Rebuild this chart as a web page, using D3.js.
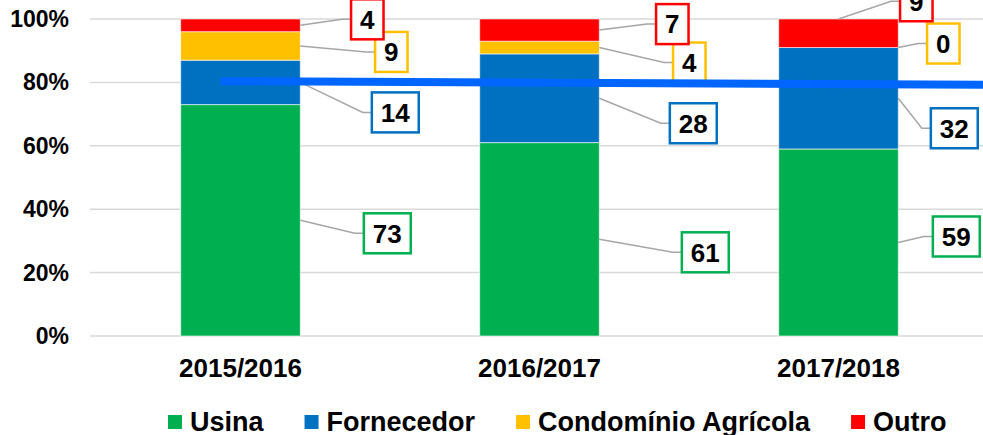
<!DOCTYPE html>
<html>
<head>
<meta charset="utf-8">
<script src="https://cdn.jsdelivr.net/npm/d3@7"></script>
<style>
  body { margin: 0; background: #fff; }
  svg { display: block; font-family: "Liberation Sans", Arial, sans-serif; font-weight: bold; }
</style>
</head>
<body>
<svg id="chart" width="983" height="435"></svg>
<script>
/* chart data */
var categories = ["2015/2016", "2016/2017", "2017/2018"];
var seriesNames = ["Usina", "Fornecedor", "Condomínio Agrícola", "Outro"];
var usina = [73, 61, 59];
var fornecedor = [14, 28, 32];
var condominio = [9, 4, 0];
var outro = [4, 7, 9];
var yTicks = [0, 20, 40, 60, 80, 100];
// blue marker line drawn over the chart (category position, percent)
var markerLine = [{ pos: -0.067, value: 80.4 }, { pos: 2.6, value: 79.2 }];

var colors = ["#00B050", "#0070C0", "#FFC000", "#FF0000"];

/* where each data label box sits, relative to bar edge and segment middle */
var labelOffsets = [
  [[87, 13], [95, 30], [91, 6], [67, -6]],
  [[106, 13], [94, 25], [90, 15], [73, -6]],
  [[58, -6], [56, 30], [45, -4], [18, -32]]
];

var svg = d3.select("#chart");

var x = d3.scaleBand().domain(categories).range([91, 988]).paddingInner(0.6).paddingOuter(0.3);
var y = d3.scaleLinear().domain([0, 100]).range([336, 19]);

/* gridlines */
svg.append("g").selectAll("line").data(yTicks).enter().append("line")
  .attr("x1", 90).attr("x2", 983)
  .attr("y1", function(d) { return y(d); })
  .attr("y2", function(d) { return y(d); })
  .attr("stroke", "#D9D9D9").attr("stroke-width", 1.5);

/* y axis labels */
svg.append("g").selectAll("text").data(yTicks).enter().append("text")
  .attr("x", 69).attr("y", function(d) { return y(d); })
  .attr("dy", "0.35em").attr("text-anchor", "end")
  .attr("font-size", 23).attr("fill", "#000")
  .text(function(d) { return d + "%"; });

/* stacked data */
var table = categories.map(function(c, i) {
  return { cat: c, Usina: usina[i], Fornecedor: fornecedor[i], "Condomínio Agrícola": condominio[i], Outro: outro[i] };
});
var stacked = d3.stack().keys(seriesNames)(table);

var layers = svg.append("g").selectAll("g").data(stacked).enter().append("g")
  .attr("fill", function(d, i) { return colors[i]; });

layers.selectAll("rect").data(function(d) { return d; }).enter().append("rect")
  .attr("x", function(d) { return x(d.data.cat); })
  .attr("width", x.bandwidth())
  .attr("y", function(d) { return y(d[1]); })
  .attr("height", function(d) { return y(d[0]) - y(d[1]); })
  .attr("stroke", "rgba(255,255,255,0.6)").attr("stroke-width", 1);

/* category labels */
svg.append("g").selectAll("text").data(categories).enter().append("text")
  .attr("x", function(d) { return x(d) + x.bandwidth() / 2; })
  .attr("y", 377).attr("text-anchor", "middle")
  .attr("font-size", 26).attr("fill", "#000")
  .text(function(d) { return d; });

/* data labels with leader lines */
var labels = [];
stacked.forEach(function(layer, s) {
  layer.forEach(function(d, c) {
    var right = x(d.data.cat) + x.bandwidth();
    var mid = y((d[0] + d[1]) / 2);
    var off = labelOffsets[c][s];
    var anchor = [right, mid];
    // the last red label hangs off the top of the bar
    if (c == 2 && s == 3) anchor = [x(d.data.cat) + x.bandwidth() / 2, y(d[1])];
    labels.push({ value: d[1] - d[0], color: colors[s], cx: right + off[0], cy: mid + off[1], anchor: anchor });
  });
});

var lab = svg.append("g").selectAll("g").data(labels).enter().append("g");

lab.append("text")
  .attr("x", function(d) { return d.cx; })
  .attr("y", function(d) { return d.cy; })
  .attr("dy", "0.36em").attr("text-anchor", "middle")
  .attr("font-size", 26).attr("fill", "#000")
  .text(function(d) { return d.value; });

lab.each(function(d) {
  var g = d3.select(this);
  var w = g.select("text").node().getComputedTextLength() + 18;
  var h = 40;
  var left = d.cx - w / 2;
  g.insert("polyline", "text")
    .attr("points", [d.anchor, [left - 9, d.cy], [left, d.cy]].map(function(p) { return p.join(","); }).join(" "))
    .attr("fill", "none").attr("stroke", "#A6A6A6").attr("stroke-width", 1.5);
  g.insert("rect", "text")
    .attr("x", left).attr("y", d.cy - h / 2)
    .attr("width", w).attr("height", h)
    .attr("fill", "#fff").attr("stroke", d.color).attr("stroke-width", 2.5);
});

/* blue marker line */
var pos = d3.scaleLinear().domain([0, 2])
  .range([x(categories[0]) + x.bandwidth() / 2, x(categories[2]) + x.bandwidth() / 2]);
svg.append("path")
  .datum(markerLine)
  .attr("d", d3.line().x(function(d) { return pos(d.pos); }).y(function(d) { return y(d.value); }))
  .attr("fill", "none").attr("stroke", "#0066FF").attr("stroke-width", 8);

/* legend */
var legend = svg.append("g");
var lx = 168;
seriesNames.forEach(function(name, i) {
  var item = legend.append("g").attr("transform", "translate(" + lx + ",0)");
  item.append("rect").attr("x", 0).attr("y", 415).attr("width", 14).attr("height", 14).attr("fill", colors[i]);
  var t = item.append("text").attr("x", 22).attr("y", 431)
    .attr("font-size", 27).attr("fill", "#000").text(name);
  lx += 22 + t.node().getComputedTextLength() + 41;
});
</script>
</body>
</html>
